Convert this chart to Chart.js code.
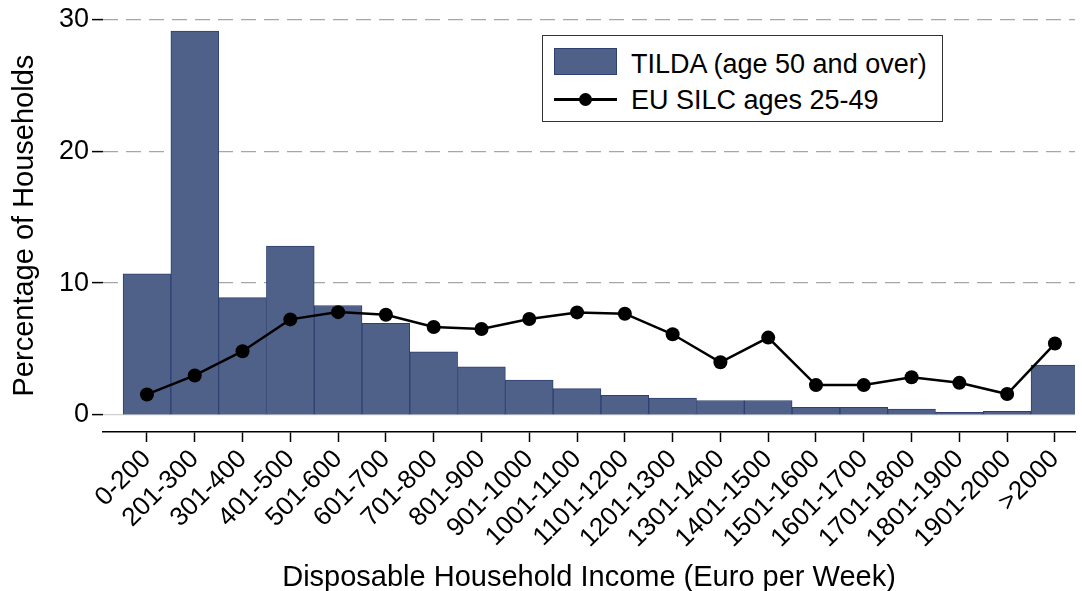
<!DOCTYPE html>
<html>
<head>
<meta charset="utf-8">
<script src="https://cdn.jsdelivr.net/npm/chart.js@4.4.1/dist/chart.umd.min.js"></script>
<style>
    body { margin: 0; background: #fff; }
    #wrap { position: relative; width: 1082px; height: 591px; }
    #legend {
        position: absolute; left: 542px; top: 35px; width: 399px; height: 85px;
        border: 1.5px solid #333; background: #fff;
        font-family: "Liberation Sans", Arial, sans-serif; font-size: 27px; color: #000;
    }
    .item { position: absolute; left: 0; height: 30px; width: 100%; }
    .item span { position: absolute; left: 88px; top: 0; line-height: 30px; }
    .swatch { position: absolute; left: 11px; top: 1px; width: 61px; height: 25px; }
    .lineKey { position: absolute; left: 11px; top: 13px; width: 63px; height: 3px; background: #000; }
    .dot { position: absolute; left: 36px; top: 8px; width: 13px; height: 13px; border-radius: 50%; background: #000; }
</style>
</head>
<body>
<div id="wrap">
    <canvas id="incomeChart" width="1082" height="591"></canvas>
    <div id="legend"></div>
</div>
<script>

const incomeBands = [
    "0-200", "201-300", "301-400", "401-500", "501-600", "601-700", "701-800",
    "801-900", "901-1000", "1001-1100", "1101-1200", "1201-1300", "1301-1400",
    "1401-1500", "1501-1600", "1601-1700", "1701-1800", "1801-1900", "1901-2000", ">2000"
];

const tildaPct = [
    10.7, 29.1, 8.9, 12.8, 8.3, 6.95, 4.8, 3.65, 2.65, 2.0,
    1.5, 1.28, 1.1, 1.1, 0.58, 0.58, 0.45, 0.2, 0.28, 3.78
];

const silcPct = [
    1.56, 3.0, 4.84, 7.25, 7.8, 7.6, 6.67, 6.52, 7.28, 7.78,
    7.68, 6.12, 4.0, 5.87, 2.27, 2.27, 2.87, 2.44, 1.59, 5.42
];

const yTicks = [0, 10, 20, 30];

const seriesNames = ["TILDA (age 50 and over)", "EU SILC ages 25-49"];

const barColor = "#506189";
const barEdge = "#2d4070";
const fontFamily = "'Liberation Sans', Arial, sans-serif";

const toPoints = values => values.map((v, i) => ({ x: i, y: v }));

const chart = new Chart(document.getElementById("incomeChart"), {
    type: "bar",
    data: {
        datasets: [
            {
                type: "line",
                label: seriesNames[1],
                data: toPoints(silcPct),
                borderColor: "#000",
                backgroundColor: "#000",
                borderWidth: 2.5,
                pointRadius: 7,
                pointBackgroundColor: "#000",
                pointBorderWidth: 0,
                tension: 0,
                order: 0
            },
            {
                type: "bar",
                label: seriesNames[0],
                data: toPoints(tildaPct),
                backgroundColor: barColor,
                borderColor: barEdge,
                borderWidth: 1,
                barPercentage: 1,
                categoryPercentage: 1,
                order: 1
            }
        ]
    },
    options: {
        responsive: false,
        animation: false,
        layout: { padding: { left: 8, right: 2, top: 18, bottom: 0 } },
        plugins: {
            legend: { display: false },
            tooltip: { enabled: false }
        },
        scales: {
            x: {
                type: "linear",
                offset: false,
                min: -0.92,
                max: 19.42,
                afterBuildTicks: scale => {
                    scale.ticks = incomeBands.map((b, i) => ({ value: i }));
                },
                afterFit: scale => { scale.height = 159; },
                ticks: {
                    autoSkip: false,
                    minRotation: 45,
                    maxRotation: 45,
                    padding: 2,
                    color: "#000",
                    font: { family: fontFamily, size: 26 },
                    callback: value => incomeBands[value]
                },
                grid: {
                    offset: false,
                    drawOnChartArea: false,
                    tickColor: "#000",
                    tickLength: 10,
                    tickWidth: 1.5
                },
                border: { display: true, color: "#000", width: 1.5 },
                title: {
                    display: true,
                    text: "Disposable Household Income (Euro per Week)",
                    color: "#000",
                    font: { family: fontFamily, size: 29, lineHeight: 0.9 },
                    padding: 0
                }
            },
            y: {
                min: -1.285,
                max: 30,
                afterBuildTicks: scale => {
                    scale.ticks = yTicks.map(v => ({ value: v }));
                },
                afterFit: scale => { scale.width = 95; },
                ticks: {
                    padding: 3,
                    color: "#000",
                    font: { family: fontFamily, size: 27 }
                },
                grid: {
                    color: ctx => ctx.tick && ctx.tick.value === 0 ? "#cfcfcf" : "#a6a6a6",
                    lineWidth: 1.2,
                    tickColor: "#000",
                    tickLength: 11,
                    tickWidth: 1.5
                },
                border: {
                    display: false,
                    dash: ctx => ctx.tick && ctx.tick.value === 0 ? [] : [15, 8]
                },
                title: {
                    display: true,
                    text: "Percentage of Households",
                    color: "#000",
                    font: { family: fontFamily, size: 29 },
                    padding: 0
                }
            }
        }
    }
});

// legend box inside the plot, like the original
const legend = document.getElementById("legend");
legend.innerHTML = `
    <div class="item" style="top:11px">
        <div class="swatch" style="background:${barColor};border:1px solid ${barEdge}"></div>
        <span style="top:2px">${seriesNames[0]}</span>
    </div>
    <div class="item" style="top:49px">
        <div class="lineKey"></div><div class="dot"></div>
        <span>${seriesNames[1]}</span>
    </div>
`;
</script>
</body>
</html>
